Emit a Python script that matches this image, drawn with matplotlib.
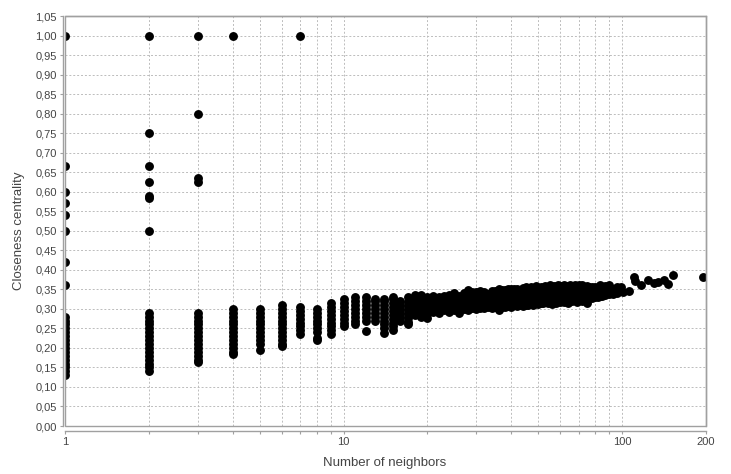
import matplotlib
matplotlib.use('Agg')
import matplotlib.pyplot as plt
from matplotlib.patches import Rectangle
from matplotlib.ticker import FixedLocator, FuncFormatter, NullFormatter

plt.rcParams['font.family'] = ['Liberation Sans', 'DejaVu Sans']

# Number of neighbors (node degree) and the closeness centrality values of the nodes with that degree
neighbors = [1, 2, 3, 4, 5, 6, 7, 8, 9, 10,
             11, 12, 13, 14, 15, 16, 17, 18, 19, 20]
closeness = [
    [0.13, 0.14, 0.15, 0.16, 0.17, 0.18, 0.19, 0.20, 0.21, 0.22, 0.23, 0.24, 0.25, 0.26, 0.27, 0.28,
     0.36, 0.42, 0.50, 0.54, 0.57, 0.60, 0.667, 1.00],
    [0.14, 0.15, 0.16, 0.17, 0.18, 0.19, 0.20, 0.21, 0.22, 0.23, 0.24, 0.25, 0.26, 0.27, 0.28, 0.29,
     0.50, 0.583, 0.59, 0.625, 0.667, 0.75, 1.00],
    [0.165, 0.17, 0.18, 0.19, 0.20, 0.21, 0.22, 0.23, 0.24, 0.25, 0.26, 0.27, 0.28, 0.29,
     0.625, 0.636, 0.80, 1.00],
    [0.185, 0.19, 0.20, 0.21, 0.22, 0.23, 0.24, 0.25, 0.26, 0.27, 0.28, 0.29, 0.30, 1.00],
    [0.195, 0.21, 0.22, 0.23, 0.24, 0.25, 0.26, 0.27, 0.28, 0.29, 0.30],
    [0.205, 0.21, 0.22, 0.23, 0.24, 0.25, 0.26, 0.27, 0.28, 0.29, 0.30, 0.31],
    [0.235, 0.245, 0.255, 0.265, 0.275, 0.285, 0.295, 0.305, 1.00],
    [0.22, 0.225, 0.24, 0.25, 0.26, 0.27, 0.28, 0.29, 0.30],
    [0.235, 0.245, 0.255, 0.265, 0.275, 0.285, 0.295, 0.305, 0.315],
    [0.255, 0.265, 0.275, 0.285, 0.295, 0.305, 0.315, 0.325],
    [0.26, 0.27, 0.28, 0.29, 0.30, 0.31, 0.32, 0.33],
    [0.244, 0.27, 0.28, 0.29, 0.30, 0.31, 0.32, 0.33],
    [0.27, 0.28, 0.29, 0.30, 0.31, 0.32, 0.325],
    [0.238, 0.25, 0.26, 0.27, 0.28, 0.29, 0.30, 0.31, 0.32, 0.325],
    [0.245, 0.255, 0.265, 0.275, 0.285, 0.295, 0.305, 0.315, 0.325, 0.33],
    [0.27, 0.28, 0.29, 0.30, 0.31, 0.32],
    [0.26, 0.267, 0.277, 0.287, 0.297, 0.307, 0.317, 0.33],
    [0.285, 0.295, 0.305, 0.315, 0.325, 0.335],
    [0.28, 0.29, 0.30, 0.31, 0.32, 0.335],
    [0.276, 0.286, 0.296, 0.306, 0.316, 0.33],
]

# Higher-degree nodes
hub_neighbors = [21, 22, 23, 24, 25, 26, 27, 28, 29, 30,
                 31, 32, 33, 34, 35, 36, 37, 38, 39, 40,
                 41, 42, 43, 44, 45, 46, 47, 48, 49, 50,
                 51, 52, 53, 54, 55, 56, 57, 58, 59, 60,
                 62, 63, 64, 65, 66, 68, 69, 70, 72, 73,
                 75, 76, 78, 80, 82, 83, 85, 87, 90, 93,
                 96, 99, 101, 106, 110, 111, 117, 124, 130, 135,
                 141, 146, 152, 195]
hub_closeness = [
    [0.292, 0.302, 0.312, 0.322, 0.333],
    [0.290, 0.300, 0.311, 0.321, 0.331],
    [0.296, 0.306, 0.316, 0.326, 0.333],
    [0.291, 0.301, 0.312, 0.323, 0.336],
    [0.296, 0.307, 0.318, 0.329, 0.340],
    [0.289, 0.300, 0.311, 0.322, 0.334],
    [0.299, 0.310, 0.320, 0.331, 0.341],
    [0.296, 0.307, 0.318, 0.329, 0.338, 0.349],
    [0.301, 0.312, 0.323, 0.334, 0.344],
    [0.300, 0.311, 0.322, 0.333, 0.343],
    [0.303, 0.314, 0.325, 0.336, 0.345],
    [0.302, 0.313, 0.324, 0.335, 0.344],
    [0.305, 0.316, 0.327, 0.338],
    [0.301, 0.312, 0.323, 0.334, 0.346],
    [0.304, 0.315, 0.326, 0.337, 0.347],
    [0.297, 0.309, 0.320, 0.331, 0.342, 0.350],
    [0.306, 0.318, 0.329, 0.340, 0.349],
    [0.305, 0.316, 0.328, 0.339, 0.348],
    [0.308, 0.319, 0.330, 0.341, 0.351],
    [0.306, 0.317, 0.329, 0.340, 0.350],
    [0.309, 0.320, 0.331, 0.342, 0.352],
    [0.307, 0.318, 0.330, 0.341, 0.351],
    [0.310, 0.322, 0.334, 0.345],
    [0.308, 0.320, 0.331, 0.343, 0.353],
    [0.311, 0.323, 0.335, 0.347, 0.355],
    [0.310, 0.322, 0.334, 0.346],
    [0.312, 0.324, 0.336, 0.348, 0.357],
    [0.311, 0.323, 0.335, 0.347],
    [0.314, 0.326, 0.338, 0.350, 0.358],
    [0.313, 0.325, 0.337, 0.349],
    [0.316, 0.330, 0.344, 0.357],
    [0.314, 0.328, 0.342, 0.354],
    [0.318, 0.332, 0.346, 0.359],
    [0.315, 0.329, 0.343, 0.356],
    [0.317, 0.331, 0.345, 0.360],
    [0.313, 0.327, 0.341, 0.355],
    [0.319, 0.333, 0.347, 0.358],
    [0.316, 0.330, 0.344, 0.357],
    [0.320, 0.334, 0.348, 0.361],
    [0.317, 0.331, 0.345, 0.358],
    [0.318, 0.332, 0.346, 0.360],
    [0.321, 0.335, 0.349],
    [0.316, 0.330, 0.344, 0.358],
    [0.322, 0.336, 0.350, 0.361],
    [0.319, 0.333, 0.347, 0.359],
    [0.323, 0.337, 0.351, 0.362],
    [0.318, 0.332, 0.346, 0.358],
    [0.324, 0.338, 0.352, 0.360],
    [0.320, 0.334, 0.348, 0.361],
    [0.326, 0.340, 0.354],
    [0.316, 0.330, 0.344, 0.358],
    [0.327, 0.341, 0.355],
    [0.329, 0.342, 0.356],
    [0.331, 0.344, 0.357],
    [0.330, 0.343],
    [0.334, 0.348, 0.360],
    [0.332, 0.345],
    [0.335, 0.348, 0.358],
    [0.337, 0.350, 0.361],
    [0.339, 0.352],
    [0.341, 0.356],
    [0.345, 0.357],
    [0.343],
    [0.346],
    [0.382],
    [0.372],
    [0.361],
    [0.374],
    [0.366],
    [0.370],
    [0.374],
    [0.364],
    [0.387],
    [0.382],
]

x_major = [1, 10, 100, 200]
x_minor = [2, 3, 4, 5, 6, 7, 8, 9, 20, 30, 40, 50, 60, 70, 80, 90]
y_ticks = [i * 0.05 for i in range(22)]

W, H = 731, 474
fig = plt.figure(figsize=(W / 100, H / 100), dpi=100)
ax = fig.add_axes([65 / W, 48 / H, 641 / W, 410 / H])

xs, ys = [], []
for k, vals in zip(neighbors + hub_neighbors, closeness + hub_closeness):
    xs.extend([k] * len(vals))
    ys.extend(vals)
ax.plot(xs, ys, 'o', color='black', markersize=6.4, markeredgewidth=0, zorder=3)

ax.set_xscale('log')
ax.set_xlim(1, 200)
ax.set_ylim(0, 1.05)

ax.xaxis.set_major_locator(FixedLocator(x_major))
ax.xaxis.set_minor_locator(FixedLocator(x_minor))
ax.xaxis.set_major_formatter(FuncFormatter(lambda v, _: f'{v:.0f}'))
ax.xaxis.set_minor_formatter(NullFormatter())
ax.yaxis.set_major_locator(FixedLocator(y_ticks))
ax.yaxis.set_major_formatter(FuncFormatter(lambda v, _: f'{v:.2f}'.replace('.', ',')))

grid_style = dict(color='#bcbcbc', linestyle=(0, (2, 2)), linewidth=0.7)
ax.grid(True, which='both', axis='x', **grid_style)
ax.grid(True, which='major', axis='y', **grid_style)
ax.set_axisbelow(True)

# plot frame plus detached left/bottom axis lines
for s in ax.spines.values():
    s.set_color('#a0a0a0')
    s.set_linewidth(1)
ax.spines['left'].set_position(('outward', 1.5))
ax.spines['bottom'].set_position(('outward', 3.6))
ax.add_patch(Rectangle((0, 0), 1, 1, transform=ax.transAxes, fill=False,
                       edgecolor='#a0a0a0', linewidth=1, clip_on=False, zorder=4))

ax.tick_params(axis='both', which='both', direction='out', length=2.5, width=0.8,
               color='#a0a0a0', labelsize=8, labelcolor='#444444')
ax.tick_params(axis='x', pad=1.5)
ax.tick_params(axis='y', pad=2)

fig.text(385 / W, 1 - 463 / H, 'Number of neighbors', ha='center', va='center',
         fontsize=9.5, color='#444444')
fig.text(19 / W, 1 - 231 / H, 'Closeness centrality', ha='center', va='center',
         rotation=90, fontsize=9.5, color='#444444')

fig.savefig('out.png', dpi=100)
